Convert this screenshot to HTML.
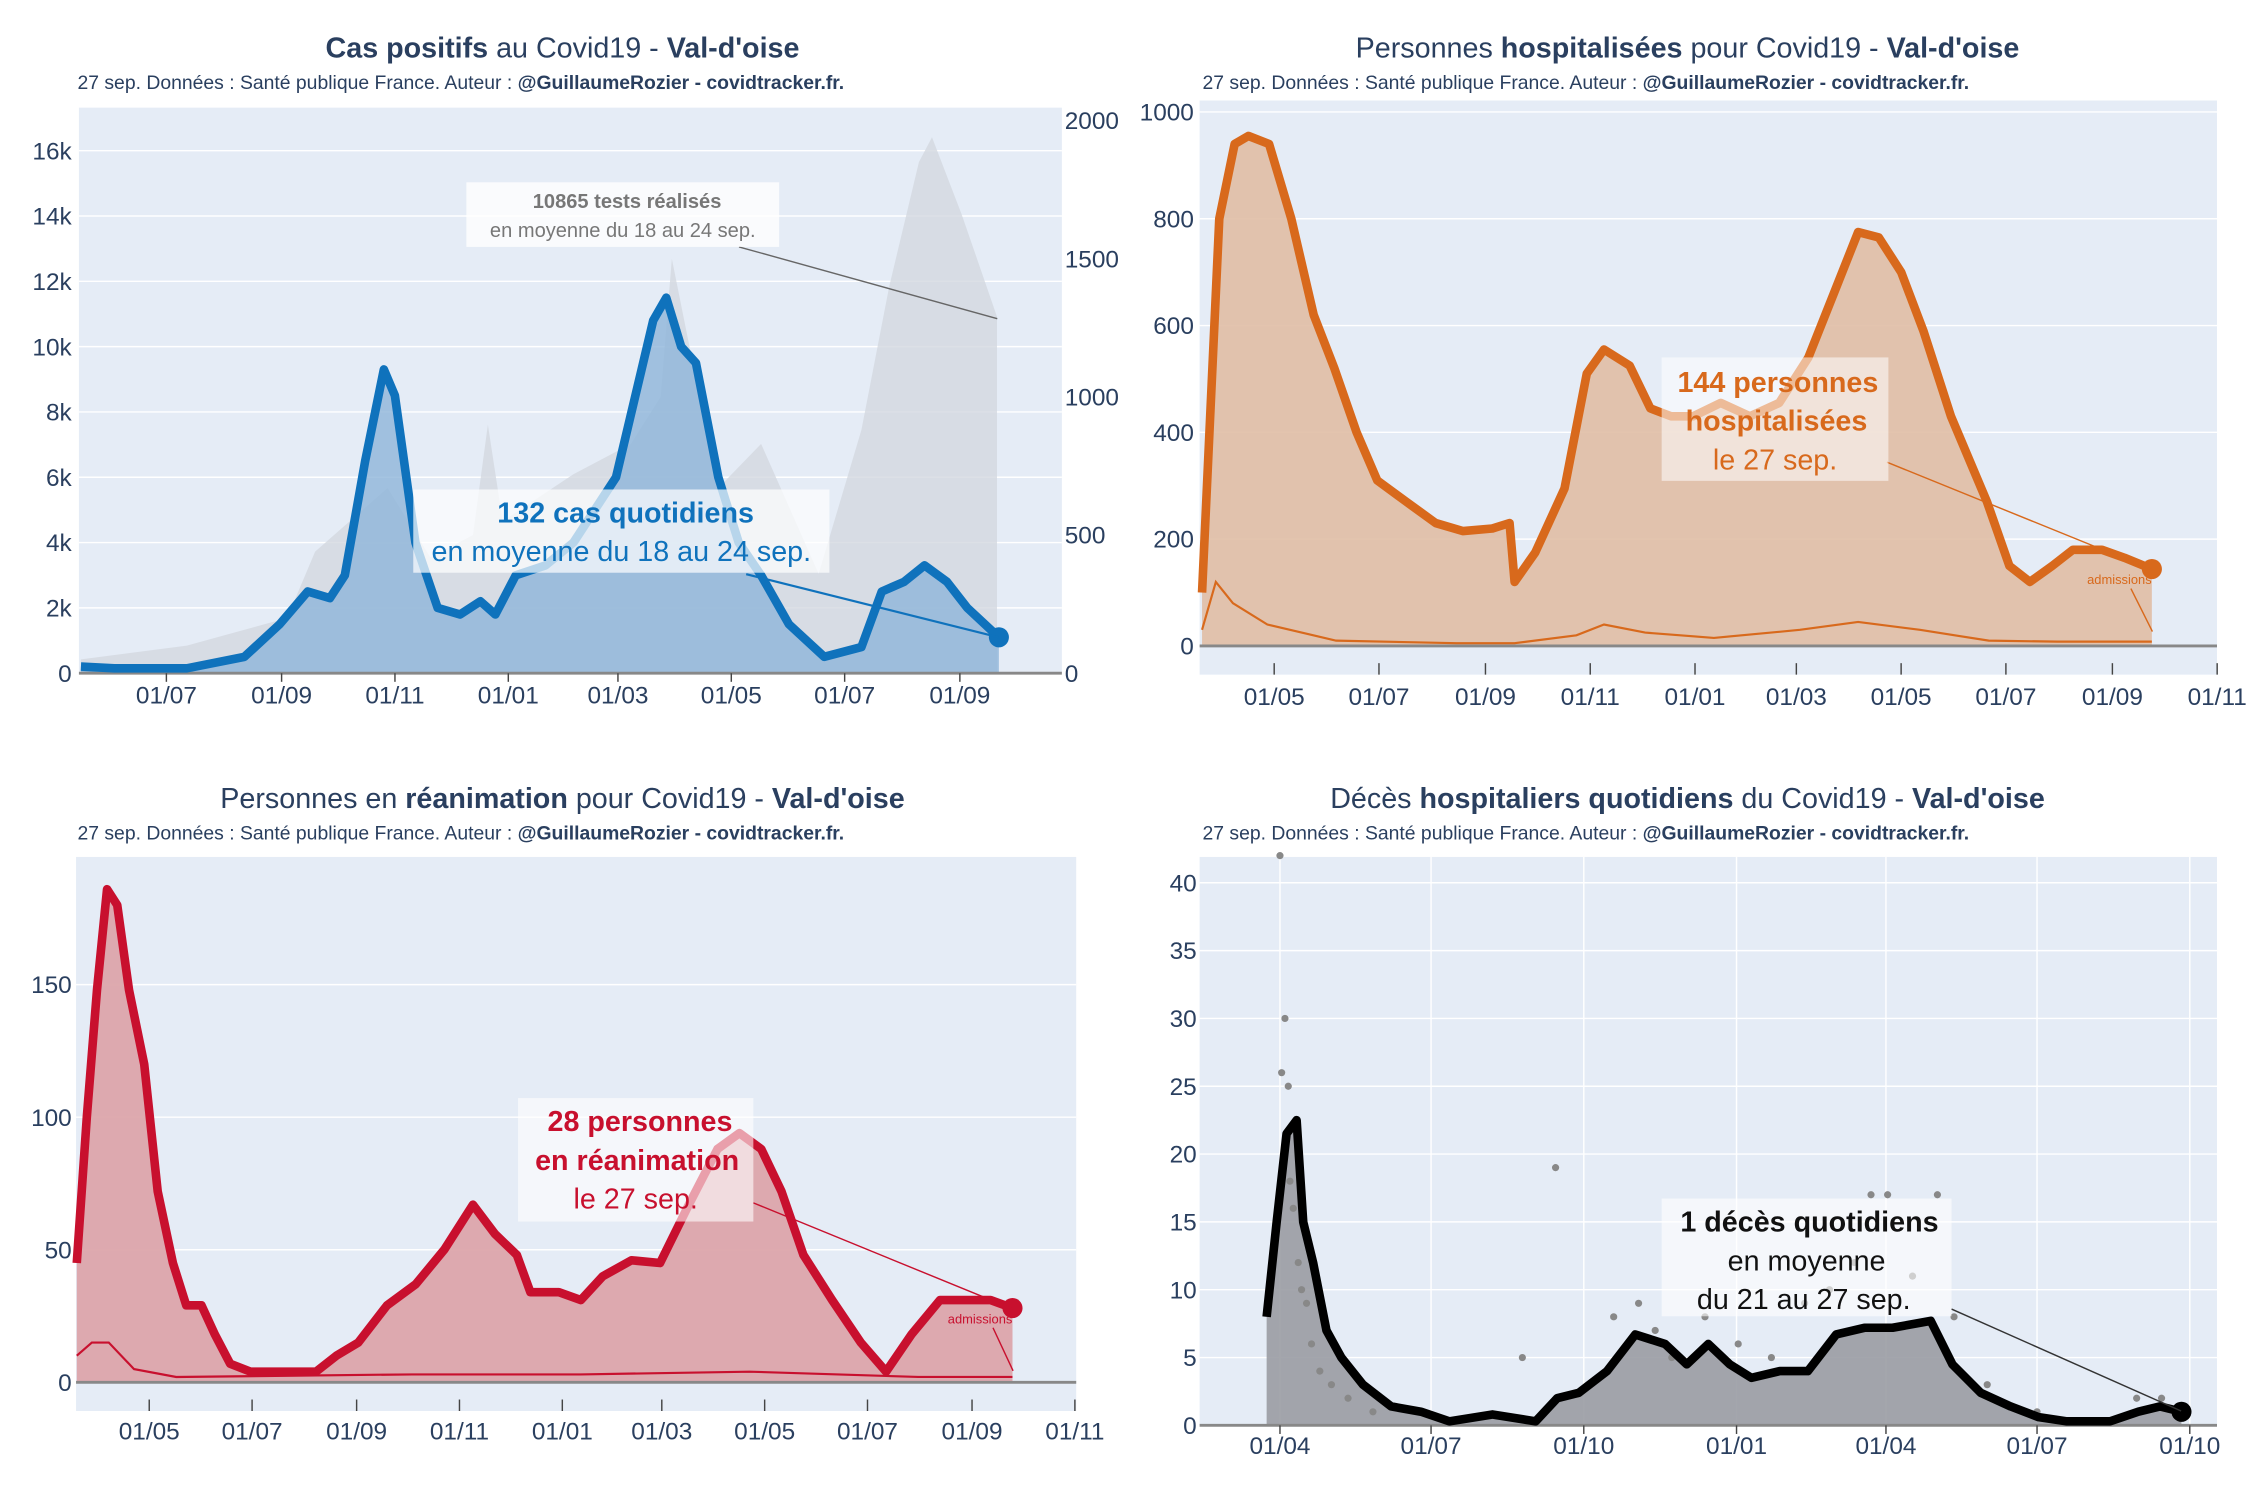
<!DOCTYPE html>
<html><head><meta charset="utf-8">
<style>
html,body{margin:0;padding:0;background:#fff;}
svg{display:block;font-family:"Liberation Sans","DejaVu Sans",sans-serif;}
.t{fill:#2a3f5f;}
</style></head>
<body>
<svg id="chart" width="2250" height="1500" viewBox="0 0 1568 1045" preserveAspectRatio="none" xmlns="http://www.w3.org/2000/svg"></svg>
<script>
// ---------- Chart 1: cas positifs (start 2020-05-13, days) ----------
const casDays = [3,21,60,91,110,125,137,145,156,166,172,183,195,207,218,226,237,253,268,291,311,318,326,334,346,357,369,384,403,423,434,446,457,469,480,497];
const casValues = [200,150,150,500,1500,2500,2300,3000,6500,9300,8500,4000,2000,1800,2200,1800,3000,3300,4000,6000,10800,11500,10000,9500,6000,4000,3000,1500,500,800,2500,2800,3300,2800,2000,1100];
const testsDays = [3,60,114,129,168,191,214,222,230,268,299,315,321,330,346,369,400,423,438,454,461,477,496];
const testsValues = [50,100,200,440,670,420,500,900,550,720,830,1000,1500,1200,670,830,360,880,1400,1850,1940,1660,1290];
const casLeftTicks = [0,2000,4000,6000,8000,10000,12000,14000,16000];
const casLeftLabels = ["0","2k","4k","6k","8k","10k","12k","14k","16k"];
const casRightTicks = [0,500,1000,1500,2000];
const casDateTicks = [49,111,172,233,292,353,414,476];
const casDateLabels = ["01/07","01/09","01/11","01/01","01/03","01/05","01/07","01/09"];
// ---------- Chart 2: hospitalisations (start 2020-03-18) ----------
const hospDays = [2,12,21,29,41,54,67,79,92,104,121,138,154,171,181,184,196,213,226,236,251,263,275,288,304,321,338,355,371,384,396,409,422,438,459,472,484,497,509,526,539,555];
const hospValues = [100,800,940,955,940,800,620,520,400,310,270,230,215,220,230,120,175,295,510,555,525,445,430,430,455,430,455,540,670,775,765,700,590,430,270,150,120,150,180,180,165,144];
const hospAdmDays = [2,10,20,40,80,150,184,220,236,260,300,350,384,420,460,500,555];
const hospAdmValues = [30,120,80,40,10,5,5,20,40,25,15,30,45,30,10,8,8];
const hospTicks = [0,200,400,600,800,1000];
const monthTicks = [44,105,167,228,289,348,409,470,532,593];
const monthLabels = ["01/05","01/07","01/09","01/11","01/01","01/03","01/05","01/07","01/09","01/11"];
// ---------- Chart 3: réanimation ----------
const reaDays = [1,7,13,19,25,32,41,49,58,66,75,83,92,104,143,155,168,185,202,219,236,249,262,270,287,300,313,330,347,364,381,394,407,419,432,449,466,481,496,513,543,556];
const reaValues = [45,100,148,186,180,148,120,72,45,29,29,18,7,4,4,10,15,29,37,50,67,56,48,34,34,31,40,46,45,67,88,94,88,72,48,31,15,4,18,31,31,28];
const reaAdmDays = [1,10,20,35,60,200,300,400,500,556];
const reaAdmValues = [10,15,15,5,2,3,3,4,2,2];
const reaTicks = [0,50,100,150];
// ---------- Chart 4: décès ----------
const dcDays = [6,12,18,24,28,34,42,51,64,81,99,116,142,168,181,194,211,228,246,259,272,285,298,315,332,349,366,383,406,419,436,454,471,488,514,531,544,557];
const dcValues = [8,15,21.5,22.5,15,12,7,5,3,1.4,1,0.3,0.8,0.3,2,2.4,4,6.7,6,4.5,6,4.5,3.5,4,4,6.7,7.2,7.2,7.7,4.5,2.4,1.4,0.6,0.3,0.3,1,1.4,1];
const dcDotDays = [14,15,17,19,20,22,25,27,30,33,38,45,55,70,160,180,200,215,230,240,250,270,290,310,330,345,360,370,380,395,410,420,440,470,530,545,555];
const dcDotValues = [42,26,30,25,18,16,12,10,9,6,4,3,2,1,5,19,3,8,9,7,5,8,6,5,9,10,12,17,17,11,17,8,3,1,2,2,1];
const dcTicks = [0,5,10,15,20,25,30,35,40];
const quarterTicks = [14,105,197,289,379,470,562];
const quarterLabels = ["01/04","01/07","01/10","01/01","01/04","01/07","01/10"];

const NS="http://www.w3.org/2000/svg";
const svg=document.getElementById('chart');
function mk(tag,attrs,parent){const e=document.createElementNS(NS,tag);for(const k in attrs)e.setAttribute(k,attrs[k]);(parent||svg).appendChild(e);return e;}
function txt(s,x,y,size,anchor,fill,weight,parent){const e=mk('text',{x:x,y:y,'font-size':size,'text-anchor':anchor||'start',fill:fill||'#2a3f5f','font-weight':weight||'normal'},parent);e.textContent=s;return e;}
function pathOf(xs,ys,fx,fy){return xs.map((d,i)=>(i?'L':'M')+fx(d).toFixed(1)+' '+fy(ys[i]).toFixed(1)).join(' ');}
function areaOf(xs,ys,fx,fy,base){return pathOf(xs,ys,fx,fy)+' L'+fx(xs[xs.length-1]).toFixed(1)+' '+base+' L'+fx(xs[0]).toFixed(1)+' '+base+' Z';}

function title(cx,y,parts,sub){
  const t=mk('text',{x:cx,y:y,'font-size':20,'text-anchor':'middle',fill:'#2a3f5f'});
  
  
  parts.forEach(p=>{const s=mk('tspan',{'font-weight':p[1]?'bold':'normal'},t);s.textContent=p[0];});
  const st=mk('text',{x:cx-338,y:y+22,'font-size':13.5,fill:'#2a3f5f'});
  
  
  const a=mk('tspan',{},st);a.textContent="27 sep. Données : Santé publique France. Auteur : ";
  const b=mk('tspan',{'font-weight':'bold'},st);b.textContent="@GuillaumeRozier - covidtracker.fr.";
}

// ===== Chart 1 =====
(function(){
  const g=mk('g',{});
  
  
  const L=55,R=740,T=75,B=469;
  const fx=d=>52.5+d*1.295, fy=v=>B-v*(364/16000), fyr=v=>B-v*(385/2000);
  title(392,40,[["Cas positifs",1],[" au Covid19 - ",0],["Val-d'oise",1]]);
  const bg=mk('rect',{x:L,y:T,width:R-L,height:B-T,fill:'#e5ecf6'},g);
  
  
  casLeftTicks.forEach((v,i)=>{ if(i>0) mk('line',{x1:L,x2:R,y1:fy(v),y2:fy(v),stroke:'#fff','stroke-width':1},g);
    const l=txt(casLeftLabels[i],50,fy(v)+6,17,'end','#2a3f5f','normal',g);
    
    });
  casRightTicks.forEach(v=>{const l=txt(String(v),742,fyr(v)+6,17,'start','#2a3f5f','normal',g);
    
    });
  const ta=mk('path',{d:areaOf(testsDays,testsValues,fx,fyr,B),fill:'#d3d8e0',opacity:0.8},g);
  
  
  const ca=mk('path',{d:areaOf(casDays,casValues,fx,fy,B),fill:'#8fb5d9',opacity:0.8},g);
  
  
  mk('line',{x1:L,x2:R,y1:B,y2:B,stroke:'#888','stroke-width':2},g);
  const cl=mk('path',{d:pathOf(casDays,casValues,fx,fy),fill:'none',stroke:'#0f72bc','stroke-width':6,'stroke-linejoin':'round'},g);
  
  
  const n=casDays.length-1;
  const dot=mk('circle',{cx:fx(casDays[n]),cy:fy(casValues[n]),r:7,fill:'#0f72bc'},g);
  
  
  casDateTicks.forEach((d,i)=>{mk('line',{x1:fx(d),x2:fx(d),y1:B,y2:B+6,stroke:'#444'},g);
    const l=txt(casDateLabels[i],fx(d),B+21,17,'middle','#2a3f5f','normal',g);
    
    });
  mk('line',{x1:515,y1:172,x2:695,y2:222,stroke:'#666','stroke-width':1},g);
  mk('rect',{x:325,y:127,width:218,height:45,fill:'#fff',opacity:0.8},g);
  txt("10865 tests réalisés",437,145,14,'middle','#777','bold',g);
  txt("en moyenne du 18 au 24 sep.",434,165,14,'middle','#777','normal',g);
  mk('line',{x1:520,y1:400,x2:696,y2:444,stroke:'#0f72bc','stroke-width':1.5},g);
  mk('rect',{x:288,y:341,width:290,height:58,fill:'#fff',opacity:0.7},g);
  const a1=txt("132 cas quotidiens",436,364,20,'middle','#0f72bc','bold',g);
  
  
  txt("en moyenne du 18 au 24 sep.",433,391,20,'middle','#0f72bc','normal',g);
})();

// ===== Chart 2 =====
(function(){
  const g=mk('g',{});
  
  
  const L=836,R=1545,T=70,B=450,AX=470;
  const fx=d=>835.3+d*1.197, fy=v=>B-v*0.372;
  title(1176,40,[["Personnes ",0],["hospitalisées",1],[" pour Covid19 - ",0],["Val-d'oise",1]]);
  const bg=mk('rect',{x:L,y:T,width:R-L,height:AX-T,fill:'#e5ecf6'},g);
  
  
  hospTicks.forEach(v=>{ if(v>0) mk('line',{x1:L,x2:R,y1:fy(v),y2:fy(v),stroke:'#fff'},g);
    const l=txt(String(v),832,fy(v)+6,17,'end','#2a3f5f','normal',g);
    
    });
  const a=mk('path',{d:areaOf(hospDays,hospValues,fx,fy,B),fill:'#e0bea5',opacity:0.9},g);
  
  
  const al=mk('path',{d:pathOf(hospAdmDays,hospAdmValues,fx,fy),fill:'none',stroke:'#d8691c','stroke-width':1.5},g);
  
  
  mk('line',{x1:L,x2:R,y1:B,y2:B,stroke:'#888','stroke-width':2},g);
  const l=mk('path',{d:pathOf(hospDays,hospValues,fx,fy),fill:'none',stroke:'#d8691c','stroke-width':6,'stroke-linejoin':'round'},g);
  
  
  const n=hospDays.length-1;
  const dot=mk('circle',{cx:fx(hospDays[n]),cy:fy(hospValues[n]),r:7,fill:'#d8691c'},g);
  
  
  monthTicks.forEach((d,i)=>{mk('line',{x1:fx(d),x2:fx(d),y1:AX-8,y2:AX,stroke:'#444'},g);
    const t=txt(monthLabels[i],fx(d),AX+21,17,'middle','#2a3f5f','normal',g);
    
    });
  txt("admissions",1477,407,9,'middle','#d8691c','normal',g);
  mk('line',{x1:1485,y1:410,x2:1500,y2:440,stroke:'#d8691c','stroke-width':1},g);
  mk('line',{x1:1315,y1:322,x2:1500,y2:397,stroke:'#d8691c','stroke-width':1},g);
  mk('rect',{x:1158,y:249,width:158,height:86,fill:'#fff',opacity:0.55},g);
  const t1=txt("144 personnes",1239,273,20,'middle','#d8691c','bold',g);
  
  
  txt("hospitalisées",1238,300,20,'middle','#d8691c','bold',g);
  txt("le 27 sep.",1237,327,20,'middle','#d8691c','normal',g);
})();

// ===== Chart 3 =====
(function(){
  const g=mk('g',{});
  
  
  const L=53,R=750,T=597,B=963,AX=983;
  const fx=d=>52.3+d*1.175, fy=v=>B-v*1.847;
  title(392,563,[["Personnes en ",0],["réanimation",1],[" pour Covid19 - ",0],["Val-d'oise",1]]);
  const bg=mk('rect',{x:L,y:T,width:R-L,height:AX-T,fill:'#e5ecf6'},g);
  
  
  reaTicks.forEach(v=>{ if(v>0) mk('line',{x1:L,x2:R,y1:fy(v),y2:fy(v),stroke:'#fff'},g);
    const l=txt(String(v),50,fy(v)+6,17,'end','#2a3f5f','normal',g);
    
    });
  const a=mk('path',{d:areaOf(reaDays,reaValues,fx,fy,B),fill:'#dca5ab',opacity:0.95},g);
  
  
  const al=mk('path',{d:pathOf(reaAdmDays,reaAdmValues,fx,fy),fill:'none',stroke:'#c8102e','stroke-width':1.5},g);
  
  
  mk('line',{x1:L,x2:R,y1:B,y2:B,stroke:'#888','stroke-width':2},g);
  const l=mk('path',{d:pathOf(reaDays,reaValues,fx,fy),fill:'none',stroke:'#c8102e','stroke-width':6,'stroke-linejoin':'round'},g);
  
  
  const n=reaDays.length-1;
  const dot=mk('circle',{cx:fx(reaDays[n]),cy:fy(reaValues[n]),r:7,fill:'#c8102e'},g);
  
  
  monthTicks.forEach((d,i)=>{mk('line',{x1:fx(d),x2:fx(d),y1:AX-8,y2:AX,stroke:'#444'},g);
    const t=txt(monthLabels[i],fx(d),AX+20,17,'middle','#2a3f5f','normal',g);
    
    });
  txt("admissions",683,922,9,'middle','#c8102e','normal',g);
  mk('line',{x1:692,y1:925,x2:706,y2:955,stroke:'#c8102e','stroke-width':1},g);
  mk('line',{x1:525,y1:838,x2:706,y2:912,stroke:'#c8102e','stroke-width':1},g);
  mk('rect',{x:361,y:765,width:164,height:86,fill:'#fff',opacity:0.6},g);
  const t1=txt("28 personnes",446,788,20,'middle','#c8102e','bold',g);
  
  
  txt("en réanimation",444,815,20,'middle','#c8102e','bold',g);
  txt("le 27 sep.",443,842,20,'middle','#c8102e','normal',g);
})();

// ===== Chart 4 =====
(function(){
  const g=mk('g',{});
  
  
  const L=836,R=1545,T=597,B=993;
  const fx=d=>875.8+d*1.157, fy=v=>B-v*9.45;
  title(1176,563,[["Décès ",0],["hospitaliers quotidiens",1],[" du Covid19 - ",0],["Val-d'oise",1]]);
  const bg=mk('rect',{x:L,y:T,width:R-L,height:B-T,fill:'#e5ecf6'},g);
  
  
  dcTicks.forEach(v=>{ if(v>0) mk('line',{x1:L,x2:R,y1:fy(v),y2:fy(v),stroke:'#fff'},g);
    const l=txt(String(v),834,fy(v)+6,17,'end','#2a3f5f','normal',g);
    
    });
  quarterTicks.forEach(d=>mk('line',{x1:fx(d),x2:fx(d),y1:T,y2:B,stroke:'#fff'},g));
  const a=mk('path',{d:areaOf(dcDays,dcValues,fx,fy,B),fill:'#9a9ca3',opacity:0.9},g);
  
  
  dcDotDays.forEach((d,i)=>{const c=mk('circle',{cx:fx(d),cy:fy(dcDotValues[i]),r:2.5,fill:'#888'},g);
    
    });
  mk('line',{x1:L,x2:R,y1:B,y2:B,stroke:'#888','stroke-width':2},g);
  const l=mk('path',{d:pathOf(dcDays,dcValues,fx,fy),fill:'none',stroke:'#000','stroke-width':6,'stroke-linejoin':'round'},g);
  
  
  const n=dcDays.length-1;
  const dot=mk('circle',{cx:fx(dcDays[n]),cy:fy(dcValues[n]),r:7,fill:'#000'},g);
  
  
  quarterTicks.forEach((d,i)=>{mk('line',{x1:fx(d),x2:fx(d),y1:B,y2:B+6,stroke:'#444'},g);
    const t=txt(quarterLabels[i],fx(d),B+20,17,'middle','#2a3f5f','normal',g);
    
    });
  mk('line',{x1:1360,y1:912,x2:1520,y2:983,stroke:'#333','stroke-width':1},g);
  mk('rect',{x:1158,y:835,width:202,height:82,fill:'#fff',opacity:0.6},g);
  const t1=txt("1 décès quotidiens",1261,858,20,'middle','#111','bold',g);
  
  
  txt("en moyenne",1259,885,20,'middle','#111','normal',g);
  txt("du 21 au 27 sep.",1257,912,20,'middle','#111','normal',g);
})();
</script>
</body></html>
